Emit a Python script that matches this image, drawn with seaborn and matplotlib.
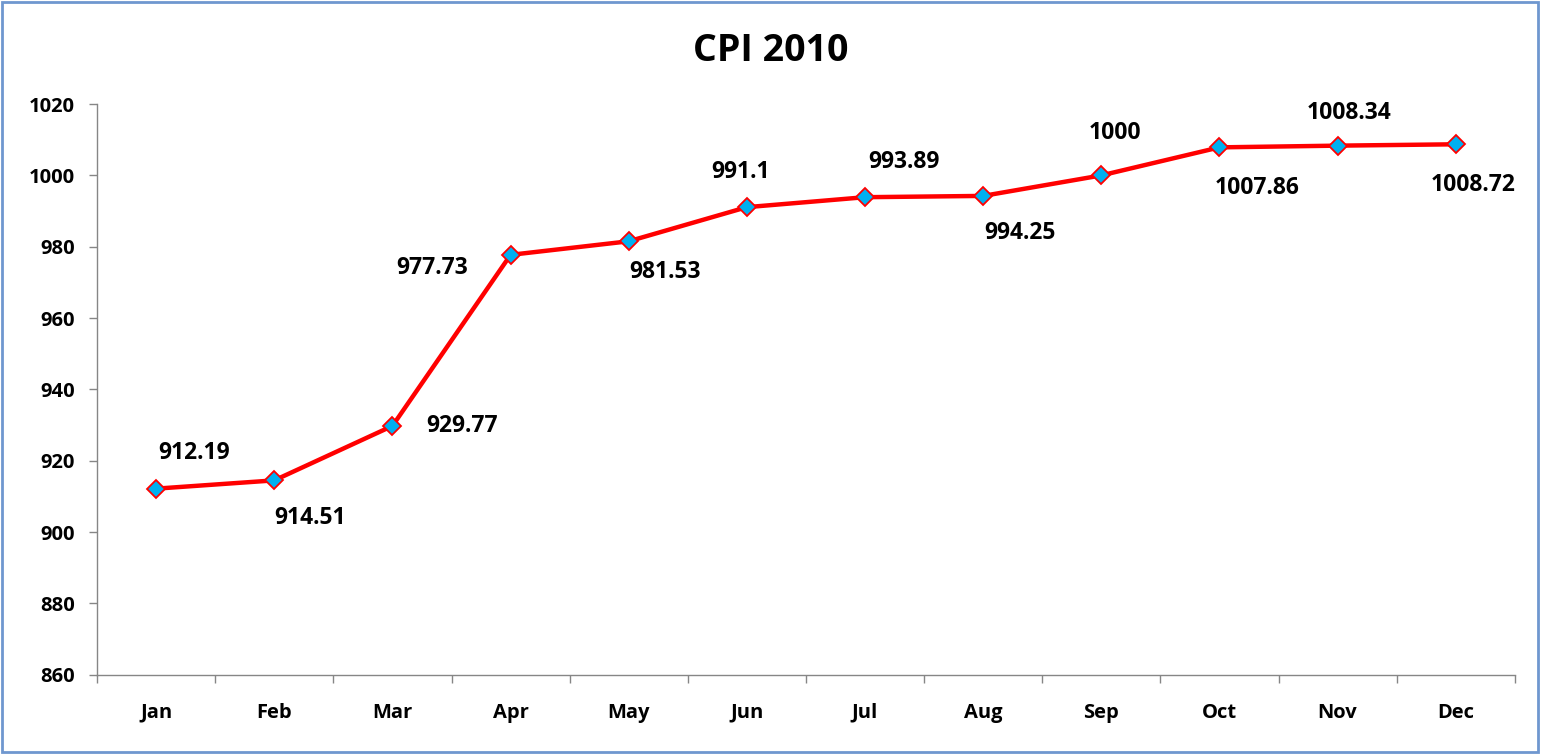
import numpy as np
import pandas as pd
import seaborn as sns
import matplotlib.pyplot as plt
from matplotlib.patches import Rectangle

# data
months = ['Jan', 'Feb', 'Mar', 'Apr', 'May', 'Jun',
          'Jul', 'Aug', 'Sep', 'Oct', 'Nov', 'Dec']
cpi = [912.19, 914.51, 929.77, 977.73, 981.53, 991.1,
       993.89, 994.25, 1000, 1007.86, 1008.34, 1008.72]
labels = ['912.19', '914.51', '929.77', '977.73', '981.53', '991.1',
          '993.89', '994.25', '1000', '1007.86', '1008.34', '1008.72']

# label offsets in pixels (dx, dy) relative to the point
offsets = [(38, 36), (36, -38), (70, 0), (-78, -13), (36, -31), (-6, 35),
           (39, 35), (37, -37), (14, 42), (38, -41), (11, 33), (17, -41)]

df = pd.DataFrame({'Month': months, 'CPI': cpi})

sns.set_style("white")
plt.rcParams['font.family'] = ['Open Sans', 'DejaVu Sans']
plt.rcParams['text.color'] = 'black'
plt.rcParams['xtick.color'] = 'black'
plt.rcParams['ytick.color'] = 'black'

fig = plt.figure(figsize=(15.41, 7.54), dpi=100)
ax = fig.add_axes([0.063, 0.105, 0.920, 0.757])

sns.lineplot(x='Month', y='CPI', data=df, sort=False, ax=ax,
             color='#ff0000', linewidth=3.2, marker='D', markersize=9,
             markerfacecolor='#00b0f0', markeredgecolor='#ff0000',
             markeredgewidth=1.3)

for i, (v, t) in enumerate(zip(cpi, labels)):
    ax.annotate(t, (i, v), xytext=offsets[i], textcoords='offset pixels',
                ha='center', va='center', fontsize=16.5, fontweight='bold',
                color='black')

ax.set_ylim(860, 1020)
ax.set_yticks(np.arange(860, 1021, 20))
ax.set_xlim(-0.5, 11.5)
ax.set_xticks(range(12))
ax.set_xticks(np.arange(-0.5, 12, 1), minor=True)
ax.tick_params(axis='x', which='major', bottom=True, length=0, pad=20)
ax.tick_params(axis='x', which='minor', bottom=True, length=6, color='#868686',
               width=1, direction='out')
ax.tick_params(axis='y', left=True, length=6, color='#868686', width=1,
               direction='out', pad=10)
for lab in ax.get_xticklabels() + ax.get_yticklabels():
    lab.set_fontweight('bold')
    lab.set_fontsize(14.5)
    lab.set_color('black')
ax.set_xlabel('')
ax.set_ylabel('')
for s in ['top', 'right']:
    ax.spines[s].set_visible(False)
for s in ['left', 'bottom']:
    ax.spines[s].set_color('#868686')
    ax.spines[s].set_linewidth(1)

fig.text(0.5, 0.933, 'CPI 2010', ha='center', va='center',
         fontsize=27, fontweight='bold', color='black')

fig.patches.append(Rectangle((0.001, 0.002), 0.997, 0.995, transform=fig.transFigure,
                             fill=False, edgecolor='#6f97cf', linewidth=2))

fig.savefig('out.png', dpi=100)
